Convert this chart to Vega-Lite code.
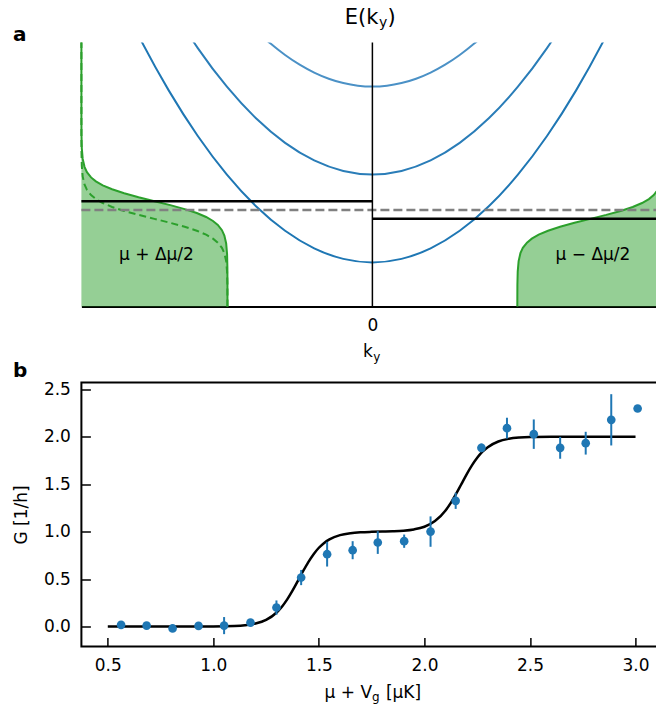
{
  "$schema": "https://vega.github.io/schema/vega-lite/v6.json",
  "padding": {"left": 11.4, "top": 6.5, "right": 0, "bottom": 0},
  "background": "white",
  "spacing": 76,
  "bounds": "flush",
  "config": {"font": "DejaVu Sans", "view": {"stroke": null}, "axis": {"grid": false}},
  "datasets": {
    "fd": [
      {"side": "L", "E": 0, "k": -0.498}, {"side": "L", "E": 0.099, "k": -0.4981}, {"side": "L", "E": 0.149, "k": -0.4983}, {"side": "L", "E": 0.199, "k": -0.4994}, {"side": "L", "E": 0.239, "k": -0.5025}, {"side": "L", "E": 0.269, "k": -0.5087}, {"side": "L", "E": 0.289, "k": -0.517}, {"side": "L", "E": 0.309, "k": -0.5312}, {"side": "L", "E": 0.324, "k": -0.5478}, {"side": "L", "E": 0.339, "k": -0.5714}, {"side": "L", "E": 0.354, "k": -0.6035}, {"side": "L", "E": 0.369, "k": -0.645}, {"side": "L", "E": 0.384, "k": -0.6945}, {"side": "L", "E": 0.399, "k": -0.749}, {"side": "L", "E": 0.414, "k": -0.8035}, {"side": "L", "E": 0.429, "k": -0.853}, {"side": "L", "E": 0.444, "k": -0.8945}, {"side": "L", "E": 0.459, "k": -0.9266}, {"side": "L", "E": 0.474, "k": -0.9502}, {"side": "L", "E": 0.489, "k": -0.9668}, {"side": "L", "E": 0.509, "k": -0.981}, {"side": "L", "E": 0.529, "k": -0.9893}, {"side": "L", "E": 0.559, "k": -0.9955}, {"side": "L", "E": 0.599, "k": -0.9986}, {"side": "L", "E": 0.649, "k": -0.9997}, {"side": "L", "E": 0.699, "k": -0.9999}, {"side": "L", "E": 1.0, "k": -1.0},
      {"side": "Ld", "E": 0, "k": -0.498}, {"side": "Ld", "E": 0.032, "k": -0.4981}, {"side": "Ld", "E": 0.082, "k": -0.4983}, {"side": "Ld", "E": 0.132, "k": -0.4994}, {"side": "Ld", "E": 0.172, "k": -0.5025}, {"side": "Ld", "E": 0.202, "k": -0.5087}, {"side": "Ld", "E": 0.222, "k": -0.517}, {"side": "Ld", "E": 0.242, "k": -0.5312}, {"side": "Ld", "E": 0.257, "k": -0.5478}, {"side": "Ld", "E": 0.272, "k": -0.5714}, {"side": "Ld", "E": 0.287, "k": -0.6035}, {"side": "Ld", "E": 0.302, "k": -0.645}, {"side": "Ld", "E": 0.317, "k": -0.6945}, {"side": "Ld", "E": 0.332, "k": -0.749}, {"side": "Ld", "E": 0.347, "k": -0.8035}, {"side": "Ld", "E": 0.362, "k": -0.853}, {"side": "Ld", "E": 0.377, "k": -0.8945}, {"side": "Ld", "E": 0.392, "k": -0.9266}, {"side": "Ld", "E": 0.407, "k": -0.9502}, {"side": "Ld", "E": 0.422, "k": -0.9668}, {"side": "Ld", "E": 0.442, "k": -0.981}, {"side": "Ld", "E": 0.462, "k": -0.9893}, {"side": "Ld", "E": 0.492, "k": -0.9955}, {"side": "Ld", "E": 0.532, "k": -0.9986}, {"side": "Ld", "E": 0.582, "k": -0.9997}, {"side": "Ld", "E": 0.632, "k": -0.9999}, {"side": "Ld", "E": 1.0, "k": -1.0},
      {"side": "R", "E": 0, "k": 0.498}, {"side": "R", "E": 0.032, "k": 0.4981}, {"side": "R", "E": 0.082, "k": 0.4983}, {"side": "R", "E": 0.132, "k": 0.4994}, {"side": "R", "E": 0.172, "k": 0.5025}, {"side": "R", "E": 0.202, "k": 0.5087}, {"side": "R", "E": 0.222, "k": 0.517}, {"side": "R", "E": 0.242, "k": 0.5312}, {"side": "R", "E": 0.257, "k": 0.5478}, {"side": "R", "E": 0.272, "k": 0.5714}, {"side": "R", "E": 0.287, "k": 0.6035}, {"side": "R", "E": 0.302, "k": 0.645}, {"side": "R", "E": 0.317, "k": 0.6945}, {"side": "R", "E": 0.332, "k": 0.749}, {"side": "R", "E": 0.347, "k": 0.8035}, {"side": "R", "E": 0.362, "k": 0.853}, {"side": "R", "E": 0.377, "k": 0.8945}, {"side": "R", "E": 0.392, "k": 0.9266}, {"side": "R", "E": 0.407, "k": 0.9502}, {"side": "R", "E": 0.422, "k": 0.9668}, {"side": "R", "E": 0.442, "k": 0.981}, {"side": "R", "E": 0.462, "k": 0.9893}, {"side": "R", "E": 0.492, "k": 0.9955}, {"side": "R", "E": 0.532, "k": 0.9986}, {"side": "R", "E": 0.582, "k": 0.9997}, {"side": "R", "E": 0.632, "k": 0.9999}, {"side": "R", "E": 1.0, "k": 1.0}
    ],
    "bands": [
      {"band": "1", "k": -0.9, "E": 1.2443}, {"band": "1", "k": -0.8, "E": 1.0182}, {"band": "1", "k": -0.7, "E": 0.8187}, {"band": "1", "k": -0.6, "E": 0.6458}, {"band": "1", "k": -0.5, "E": 0.4995}, {"band": "1", "k": -0.4, "E": 0.3798}, {"band": "1", "k": -0.3, "E": 0.2867}, {"band": "1", "k": -0.2, "E": 0.2202}, {"band": "1", "k": -0.1, "E": 0.1803}, {"band": "1", "k": 0, "E": 0.167}, {"band": "1", "k": 0.1, "E": 0.1803}, {"band": "1", "k": 0.2, "E": 0.2202}, {"band": "1", "k": 0.3, "E": 0.2867}, {"band": "1", "k": 0.4, "E": 0.3798}, {"band": "1", "k": 0.5, "E": 0.4995}, {"band": "1", "k": 0.6, "E": 0.6458}, {"band": "1", "k": 0.7, "E": 0.8187}, {"band": "1", "k": 0.8, "E": 1.0182}, {"band": "1", "k": 0.9, "E": 1.2443},
      {"band": "2", "k": -0.7, "E": 1.1517}, {"band": "2", "k": -0.6, "E": 0.9788}, {"band": "2", "k": -0.5, "E": 0.8325}, {"band": "2", "k": -0.4, "E": 0.7128}, {"band": "2", "k": -0.3, "E": 0.6197}, {"band": "2", "k": -0.2, "E": 0.5532}, {"band": "2", "k": -0.1, "E": 0.5133}, {"band": "2", "k": 0, "E": 0.5}, {"band": "2", "k": 0.1, "E": 0.5133}, {"band": "2", "k": 0.2, "E": 0.5532}, {"band": "2", "k": 0.3, "E": 0.6197}, {"band": "2", "k": 0.4, "E": 0.7128}, {"band": "2", "k": 0.5, "E": 0.8325}, {"band": "2", "k": 0.6, "E": 0.9788}, {"band": "2", "k": 0.7, "E": 1.1517},
      {"band": "3", "k": -0.45, "E": 1.1023}, {"band": "3", "k": -0.4, "E": 1.0458}, {"band": "3", "k": -0.35, "E": 0.9959}, {"band": "3", "k": -0.3, "E": 0.9527}, {"band": "3", "k": -0.25, "E": 0.9161}, {"band": "3", "k": -0.2, "E": 0.8862}, {"band": "3", "k": -0.15, "E": 0.8629}, {"band": "3", "k": -0.1, "E": 0.8463}, {"band": "3", "k": -0.05, "E": 0.8363}, {"band": "3", "k": 0, "E": 0.833}, {"band": "3", "k": 0.05, "E": 0.8363}, {"band": "3", "k": 0.1, "E": 0.8463}, {"band": "3", "k": 0.15, "E": 0.8629}, {"band": "3", "k": 0.2, "E": 0.8862}, {"band": "3", "k": 0.25, "E": 0.9161}, {"band": "3", "k": 0.3, "E": 0.9527}, {"band": "3", "k": 0.35, "E": 0.9959}, {"band": "3", "k": 0.4, "E": 1.0458}, {"band": "3", "k": 0.45, "E": 1.1023}
    ],
    "mu": [
      {"k1": -1, "k2": 0, "E": 0.399},
      {"k1": 0, "k2": 1, "E": 0.332}
    ],
    "mu0": [{"k1": -1, "k2": 1, "E": 0.366}],
    "axis0": [{"k": 0}],
    "reslabels": [
      {"t": "μ + Δμ/2", "k": -0.742, "E": 0.177},
      {"t": "μ − Δμ/2", "k": 0.758, "E": 0.177}
    ],
    "pts": [
      {"x": 0.563, "G": 0.018, "lo": -0.012, "hi": 0.048},
      {"x": 0.684, "G": 0.010, "lo": -0.015, "hi": 0.035},
      {"x": 0.807, "G": -0.020, "lo": -0.05, "hi": 0.01},
      {"x": 0.930, "G": 0.007, "lo": -0.013, "hi": 0.027},
      {"x": 1.051, "G": 0.010, "lo": -0.08, "hi": 0.10},
      {"x": 1.176, "G": 0.042, "lo": 0.012, "hi": 0.072},
      {"x": 1.299, "G": 0.200, "lo": 0.125, "hi": 0.275},
      {"x": 1.416, "G": 0.516, "lo": 0.436, "hi": 0.596},
      {"x": 1.539, "G": 0.762, "lo": 0.632, "hi": 0.892},
      {"x": 1.660, "G": 0.804, "lo": 0.709, "hi": 0.899},
      {"x": 1.779, "G": 0.885, "lo": 0.765, "hi": 1.005},
      {"x": 1.904, "G": 0.899, "lo": 0.829, "hi": 0.969},
      {"x": 2.029, "G": 1.000, "lo": 0.84, "hi": 1.16},
      {"x": 2.148, "G": 1.324, "lo": 1.239, "hi": 1.409},
      {"x": 2.270, "G": 1.882, "lo": 1.837, "hi": 1.927},
      {"x": 2.391, "G": 2.089, "lo": 1.979, "hi": 2.199},
      {"x": 2.518, "G": 2.026, "lo": 1.871, "hi": 2.181},
      {"x": 2.643, "G": 1.882, "lo": 1.767, "hi": 1.997},
      {"x": 2.764, "G": 1.931, "lo": 1.811, "hi": 2.051},
      {"x": 2.885, "G": 2.177, "lo": 1.907, "hi": 2.447},
      {"x": 3.010, "G": 2.296, "lo": 2.276, "hi": 2.316}
    ],
    "fit": [
      {"x": 0.5, "G": 0}, {"x": 0.8, "G": 0}, {"x": 1.0, "G": 0.0012}, {"x": 1.1, "G": 0.0062}, {"x": 1.15, "G": 0.0141}, {"x": 1.2, "G": 0.0318}, {"x": 1.25, "G": 0.0702}, {"x": 1.3, "G": 0.148}, {"x": 1.325, "G": 0.2087}, {"x": 1.35, "G": 0.2857}, {"x": 1.375, "G": 0.3775}, {"x": 1.4, "G": 0.4792}, {"x": 1.425, "G": 0.5826}, {"x": 1.45, "G": 0.6792}, {"x": 1.475, "G": 0.7625}, {"x": 1.5, "G": 0.8297}, {"x": 1.525, "G": 0.8808}, {"x": 1.55, "G": 0.9181}, {"x": 1.6, "G": 0.9627}, {"x": 1.65, "G": 0.9836}, {"x": 1.7, "G": 0.9931}, {"x": 1.75, "G": 0.9976}, {"x": 1.8, "G": 1.0006}, {"x": 1.85, "G": 1.0038}, {"x": 1.9, "G": 1.0098}, {"x": 1.95, "G": 1.023}, {"x": 2.0, "G": 1.051}, {"x": 2.05, "G": 1.111}, {"x": 2.1, "G": 1.223}, {"x": 2.125, "G": 1.303}, {"x": 2.15, "G": 1.397}, {"x": 2.175, "G": 1.5}, {"x": 2.2, "G": 1.603}, {"x": 2.225, "G": 1.697}, {"x": 2.25, "G": 1.777}, {"x": 2.275, "G": 1.841}, {"x": 2.3, "G": 1.889}, {"x": 2.35, "G": 1.949}, {"x": 2.4, "G": 1.977}, {"x": 2.45, "G": 1.99}, {"x": 2.5, "G": 1.996}, {"x": 2.6, "G": 1.999}, {"x": 2.8, "G": 2.0}, {"x": 3.0, "G": 2.0}
    ]
  },
  "vconcat": [
    {
      "width": 582,
      "height": 264,
      "view": {"stroke": null},
      "layer": [
        {
          "data": {"name": "fd"},
          "transform": [{"filter": "datum.side === 'L'"}],
          "mark": {"type": "area", "orient": "horizontal", "fill": "#2ca02c", "fillOpacity": 0.5, "strokeWidth": 0},
          "encoding": {
            "x": {"field": "k", "type": "quantitative", "scale": {"domain": [-1, 1], "nice": false, "zero": false},
                  "axis": {"values": [0], "format": "d", "ticks": false, "labelPadding": 11, "labelFont": "DejaVu Sans", "labelFontSize": 17, "labelColor": "black", "domainColor": "black", "domainWidth": 2, "title": null, "grid": false}},
            "x2": {"datum": -1},
            "y": {"field": "E", "type": "quantitative", "scale": {"domain": [0, 1], "nice": false, "zero": false}, "axis": null}
          }
        },
        {
          "data": {"name": "fd"},
          "transform": [{"filter": "datum.side === 'R'"}],
          "mark": {"type": "area", "orient": "horizontal", "fill": "#2ca02c", "fillOpacity": 0.5, "strokeWidth": 0},
          "encoding": {
            "x": {"field": "k", "type": "quantitative"},
            "x2": {"datum": 1},
            "y": {"field": "E", "type": "quantitative", "axis": null}
          }
        },
        {
          "data": {"name": "fd"},
          "transform": [{"filter": "datum.side !== 'Ld'"}],
          "mark": {"type": "line", "color": "#2ca02c", "strokeWidth": 2},
          "encoding": {
            "x": {"field": "k", "type": "quantitative"},
            "y": {"field": "E", "type": "quantitative", "axis": null},
            "detail": {"field": "side"},
            "order": {"field": "E", "type": "quantitative"}
          }
        },
        {
          "data": {"name": "fd"},
          "transform": [{"filter": "datum.side === 'Ld'"}],
          "mark": {"type": "line", "color": "#2ca02c", "strokeWidth": 2, "strokeDash": [7, 4]},
          "encoding": {
            "x": {"field": "k", "type": "quantitative"},
            "y": {"field": "E", "type": "quantitative", "axis": null},
            "order": {"field": "E", "type": "quantitative"}
          }
        },
        {
          "data": {"name": "bands"},
          "mark": {"type": "line", "strokeWidth": 2, "clip": true, "interpolate": "monotone"},
          "encoding": {
            "x": {"field": "k", "type": "quantitative"},
            "y": {"field": "E", "type": "quantitative", "axis": null},
            "color": {"field": "band", "type": "nominal", "scale": {"domain": ["1", "2", "3"], "range": ["#1f77b4", "#2a7db8", "#4b91c6"]}, "legend": null}
          }
        },
        {
          "data": {"name": "mu0"},
          "mark": {"type": "rule", "color": "#808080", "strokeWidth": 2.5, "strokeDash": [9, 4]},
          "encoding": {
            "x": {"field": "k1", "type": "quantitative"},
            "x2": {"field": "k2"},
            "y": {"field": "E", "type": "quantitative", "axis": null}
          }
        },
        {
          "data": {"name": "mu"},
          "mark": {"type": "rule", "color": "black", "strokeWidth": 2.5},
          "encoding": {
            "x": {"field": "k1", "type": "quantitative"},
            "x2": {"field": "k2"},
            "y": {"field": "E", "type": "quantitative", "axis": null}
          }
        },
        {
          "data": {"name": "axis0"},
          "mark": {"type": "rule", "color": "black", "strokeWidth": 1.5},
          "encoding": {
            "x": {"field": "k", "type": "quantitative"}
          }
        },
        {
          "data": {"name": "reslabels"},
          "mark": {"type": "text", "fontSize": 17, "align": "center", "baseline": "alphabetic", "color": "black"},
          "encoding": {
            "x": {"field": "k", "type": "quantitative"},
            "y": {"field": "E", "type": "quantitative", "axis": null},
            "text": {"field": "t"}
          }
        },
        {
          "data": {"values": [{"t": "E(k"}]},
          "mark": {"type": "text", "fontSize": 21, "align": "right", "baseline": "alphabetic", "dx": 6, "dy": -18.5, "color": "black"},
          "encoding": {"x": {"datum": 0}, "y": {"datum": 1, "axis": null}, "text": {"field": "t"}}
        },
        {
          "data": {"values": [{"t": "y"}]},
          "mark": {"type": "text", "fontSize": 14, "align": "left", "baseline": "alphabetic", "dx": 6.5, "dy": -16, "color": "black"},
          "encoding": {"x": {"datum": 0}, "y": {"datum": 1, "axis": null}, "text": {"field": "t"}}
        },
        {
          "data": {"values": [{"t": ")"}]},
          "mark": {"type": "text", "fontSize": 21, "align": "left", "baseline": "alphabetic", "dx": 15, "dy": -18.5, "color": "black"},
          "encoding": {"x": {"datum": 0}, "y": {"datum": 1, "axis": null}, "text": {"field": "t"}}
        },
        {
          "data": {"values": [{"t": "k"}]},
          "mark": {"type": "text", "fontSize": 17, "align": "right", "baseline": "alphabetic", "dx": 0.5, "dy": 50.7, "color": "black"},
          "encoding": {"x": {"datum": 0}, "y": {"datum": 0, "axis": null}, "text": {"field": "t"}}
        },
        {
          "data": {"values": [{"t": "y"}]},
          "mark": {"type": "text", "fontSize": 12, "align": "left", "baseline": "alphabetic", "dx": 0.8, "dy": 54.5, "color": "black"},
          "encoding": {"x": {"datum": 0}, "y": {"datum": 0, "axis": null}, "text": {"field": "t"}}
        },
        {
          "data": {"values": [{"t": "a"}]},
          "mark": {"type": "text", "fontSize": 20, "fontWeight": "bold", "align": "left", "baseline": "alphabetic", "dx": -68.3, "dy": -2, "color": "black"},
          "encoding": {"x": {"datum": -1}, "y": {"datum": 1, "axis": null}, "text": {"field": "t"}}
        }
      ]
    },
    {
      "width": 582,
      "height": 264,
      "view": {"stroke": "black", "strokeWidth": 2},
      "layer": [
        {
          "data": {"name": "fit"},
          "mark": {"type": "line", "color": "black", "strokeWidth": 2.5, "interpolate": "monotone"},
          "encoding": {
            "x": {"field": "x", "type": "quantitative", "scale": {"domain": [0.375, 3.132], "nice": false, "zero": false},
                  "axis": {"values": [0.5, 1, 1.5, 2, 2.5, 3], "format": ".1f", "tickSize": -9, "tickWidth": 1.5, "tickColor": "black", "labelPadding": 20, "labelFont": "DejaVu Sans", "labelFontSize": 17, "labelColor": "black", "domain": false, "grid": false, "title": null}},
            "y": {"field": "G", "type": "quantitative", "scale": {"domain": [-0.21, 2.57], "nice": false, "zero": false},
                  "axis": {"values": [0, 0.5, 1, 1.5, 2, 2.5], "format": ".1f", "tickSize": -9, "tickWidth": 1.5, "tickColor": "black", "labelPadding": 20, "labelFont": "DejaVu Sans", "labelFontSize": 17, "labelColor": "black", "domain": false, "grid": false,
                           "title": "G [1/h]", "titleFont": "DejaVu Sans", "titleFontSize": 17, "titleFontWeight": "normal", "titleColor": "black", "titleX": -54.6, "titleY": 132, "titleBaseline": "alphabetic", "titleAngle": 270, "titleAlign": "center"}}
          }
        },
        {
          "data": {"name": "pts"},
          "mark": {"type": "rule", "color": "#1f77b4", "strokeWidth": 2},
          "encoding": {
            "x": {"field": "x", "type": "quantitative"},
            "y": {"field": "lo", "type": "quantitative"},
            "y2": {"field": "hi"}
          }
        },
        {
          "data": {"name": "pts"},
          "mark": {"type": "point", "shape": "circle", "filled": true, "size": 75, "color": "#1f77b4", "opacity": 1},
          "encoding": {
            "x": {"field": "x", "type": "quantitative"},
            "y": {"field": "G", "type": "quantitative"}
          }
        },
        {
          "data": {"values": [{"t": "μ + V"}]},
          "mark": {"type": "text", "fontSize": 17, "align": "right", "baseline": "alphabetic", "dx": -0.4, "dy": 51.5, "color": "black"},
          "encoding": {"x": {"datum": 1.7537}, "y": {"datum": -0.21}, "text": {"field": "t"}}
        },
        {
          "data": {"values": [{"t": "g"}]},
          "mark": {"type": "text", "fontSize": 12, "align": "left", "baseline": "alphabetic", "dx": -0.4, "dy": 55, "color": "black"},
          "encoding": {"x": {"datum": 1.7537}, "y": {"datum": -0.21}, "text": {"field": "t"}}
        },
        {
          "data": {"values": [{"t": "[μK]"}]},
          "mark": {"type": "text", "fontSize": 17, "align": "left", "baseline": "alphabetic", "dx": 13.5, "dy": 51.5, "color": "black"},
          "encoding": {"x": {"datum": 1.7537}, "y": {"datum": -0.21}, "text": {"field": "t"}}
        },
        {
          "data": {"values": [{"t": "b"}]},
          "mark": {"type": "text", "fontSize": 20, "fontWeight": "bold", "align": "left", "baseline": "alphabetic", "dx": -68.3, "dy": -5, "color": "black"},
          "encoding": {"x": {"datum": 0.375}, "y": {"datum": 2.57}, "text": {"field": "t"}}
        }
      ]
    }
  ]
}
